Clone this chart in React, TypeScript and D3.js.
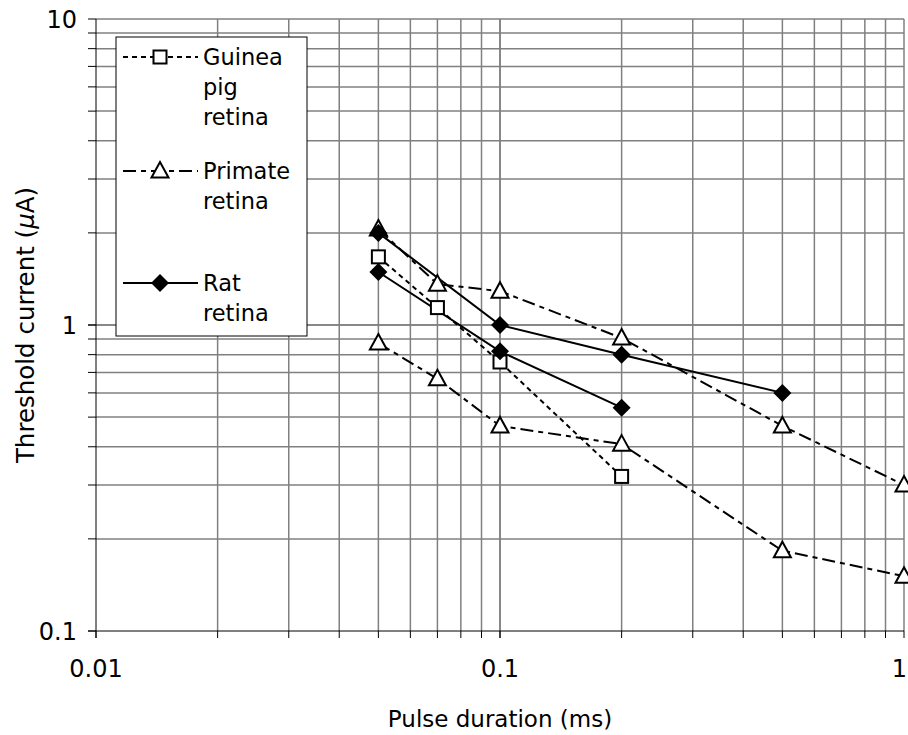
import React, { useEffect, useRef } from 'react';
import * as d3 from 'd3';

// pulse duration (ms)
const guineaX = [0.05, 0.07, 0.1, 0.2];
const guineaY = [1.67, 1.14, 0.757, 0.32];

const primateAX = [0.05, 0.07, 0.1, 0.2, 0.5, 1];
const primateAY = [2.06, 1.36, 1.29, 0.907, 0.468, 0.3];

const primateBX = [0.05, 0.07, 0.1, 0.2, 0.5, 1];
const primateBY = [0.873, 0.667, 0.468, 0.408, 0.183, 0.151];

const ratAX = [0.05, 0.1, 0.2, 0.5];
const ratAY = [2.0, 1.0, 0.8, 0.6];

const ratBX = [0.05, 0.1, 0.2];
const ratBY = [1.49, 0.82, 0.537];

const xTicks = [0.01, 0.1, 1];
const yTicks = [0.1, 1, 10];
const legendLabels = [['Guinea', 'pig', 'retina'], ['Primate', 'retina'], ['Rat', 'retina']];

const FONT = '"DejaVu Sans", sans-serif';

export default function App() {
  const svgRef = useRef<SVGSVGElement>(null);

  useEffect(() => {
    const svg = d3.select(svgRef.current);
    svg.selectAll('*').remove();

    const left = 96, right = 904, top = 19, bottom = 631;
    const x = d3.scaleLog().domain([0.01, 1]).range([left, right]);
    const y = d3.scaleLog().domain([0.1, 10]).range([bottom, top]);

    const minorX: number[] = [];
    for (const d of [0.01, 0.1]) for (let k = 1; k <= 10; k++) minorX.push(+(d * k).toFixed(3));
    const minorY: number[] = [];
    for (const d of [0.1, 1]) for (let k = 1; k <= 10; k++) minorY.push(+(d * k).toFixed(2));

    const g = svg.append('g');

    // grid
    g.selectAll('.vg').data(minorX.filter(v => v > 0.01)).enter().append('line')
      .attr('x1', d => x(d)).attr('x2', d => x(d)).attr('y1', top).attr('y2', bottom)
      .attr('stroke', '#808080').attr('stroke-width', 1.5);
    g.selectAll('.hg').data(minorY.filter(v => v > 0.1)).enter().append('line')
      .attr('x1', left).attr('x2', right).attr('y1', d => y(d)).attr('y2', d => y(d))
      .attr('stroke', '#808080').attr('stroke-width', 1.5);

    // axes
    g.append('line').attr('x1', left).attr('x2', left).attr('y1', top).attr('y2', bottom + 7)
      .attr('stroke', '#000');
    g.append('line').attr('x1', left - 8).attr('x2', right).attr('y1', bottom).attr('y2', bottom)
      .attr('stroke', '#000');
    g.selectAll('.yt').data(minorY).enter().append('line')
      .attr('x1', left - 8).attr('x2', left).attr('y1', d => y(d)).attr('y2', d => y(d))
      .attr('stroke', '#000');
    g.selectAll('.xt').data(minorX).enter().append('line')
      .attr('x1', d => x(d)).attr('x2', d => x(d)).attr('y1', bottom).attr('y2', bottom + 7)
      .attr('stroke', '#000');

    g.selectAll('.ytl').data(yTicks).enter().append('text')
      .attr('x', 77).attr('y', d => y(d)).attr('dy', '0.36em')
      .attr('text-anchor', 'end').attr('font-family', FONT).attr('font-size', 24)
      .text(d => String(d));
    g.selectAll('.xtl').data(xTicks).enter().append('text')
      .attr('x', d => x(d)).attr('y', 668).attr('dy', '0.36em')
      .attr('text-anchor', d => (d === 1 ? 'end' : 'middle')).attr('dx', d => (d === 1 ? 3 : 0))
      .attr('font-family', FONT).attr('font-size', 24)
      .text(d => String(d));

    g.append('text').attr('x', 500).attr('y', 719).attr('dy', '0.36em')
      .attr('text-anchor', 'middle').attr('font-family', FONT).attr('font-size', 23)
      .text('Pulse duration (ms)');
    const yl = g.append('text').attr('transform', `translate(25,${y(1)}) rotate(-90)`).attr('dy', '0.36em')
      .attr('text-anchor', 'middle').attr('font-family', FONT).attr('font-size', 24.5);
    yl.append('tspan').text('Threshold current (');
    yl.append('tspan').attr('font-style', 'italic').text('μ');
    yl.append('tspan').text('A)');

    const line = d3.line<[number, number]>().x(d => x(d[0])).y(d => y(d[1]));
    const zip = (a: number[], b: number[]) => a.map((v, i) => [v, b[i]] as [number, number]);

    const series = [
      { pts: zip(guineaX, guineaY), dash: '5,4', marker: 'square' },
      { pts: zip(primateAX, primateAY), dash: '13,5,5,5', marker: 'triangle' },
      { pts: zip(primateBX, primateBY), dash: '13,5,5,5', marker: 'triangle' },
      { pts: zip(ratAX, ratAY), dash: null, marker: 'diamond' },
      { pts: zip(ratBX, ratBY), dash: null, marker: 'diamond' },
    ];

    const drawMarker = (sel: any, type: string, cx: number, cy: number) => {
      if (type === 'square') {
        sel.append('rect').attr('x', cx - 6.5).attr('y', cy - 6.5).attr('width', 13).attr('height', 13)
          .attr('fill', '#fff').attr('stroke', '#000').attr('stroke-width', 2);
      } else if (type === 'triangle') {
        sel.append('path').attr('d', `M${cx},${cy - 9}L${cx + 8.5},${cy + 6.5}L${cx - 8.5},${cy + 6.5}Z`)
          .attr('fill', '#fff').attr('stroke', '#000').attr('stroke-width', 2);
      } else {
        sel.append('path').attr('d', `M${cx},${cy - 9}L${cx + 9},${cy}L${cx},${cy + 9}L${cx - 9},${cy}Z`)
          .attr('fill', '#000');
      }
    };

    series.forEach(s => {
      const p = g.append('path').attr('d', line(s.pts)).attr('fill', 'none')
        .attr('stroke', '#000').attr('stroke-width', 2);
      if (s.dash) p.attr('stroke-dasharray', s.dash);
    });
    series.forEach(s => s.pts.forEach(d => drawMarker(g, s.marker, x(d[0]), y(d[1]))));

    // legend
    const lg = g.append('g');
    lg.append('rect').attr('x', 116).attr('y', 37).attr('width', 191).attr('height', 299)
      .attr('fill', '#fff').attr('stroke', '#000');
    const rowY = [57, 171, 283];
    const kinds = [series[0], series[1], series[3]];
    kinds.forEach((s, i) => {
      const l = lg.append('line').attr('x1', 123).attr('x2', 198).attr('y1', rowY[i]).attr('y2', rowY[i])
        .attr('stroke', '#000').attr('stroke-width', 2);
      if (s.dash) l.attr('stroke-dasharray', s.dash);
      drawMarker(lg, s.marker, 160, rowY[i]);
      legendLabels[i].forEach((t, j) => {
        lg.append('text').attr('x', 203).attr('y', rowY[i] + j * 30).attr('dy', '0.36em')
          .attr('font-family', FONT).attr('font-size', 22.5).text(t);
      });
    });
  }, []);

  return (
    <svg ref={svgRef} width={908} height={735}
      style={{ position: 'absolute', left: 0, top: 0, display: 'block', background: '#fff' }} />
  );
}
